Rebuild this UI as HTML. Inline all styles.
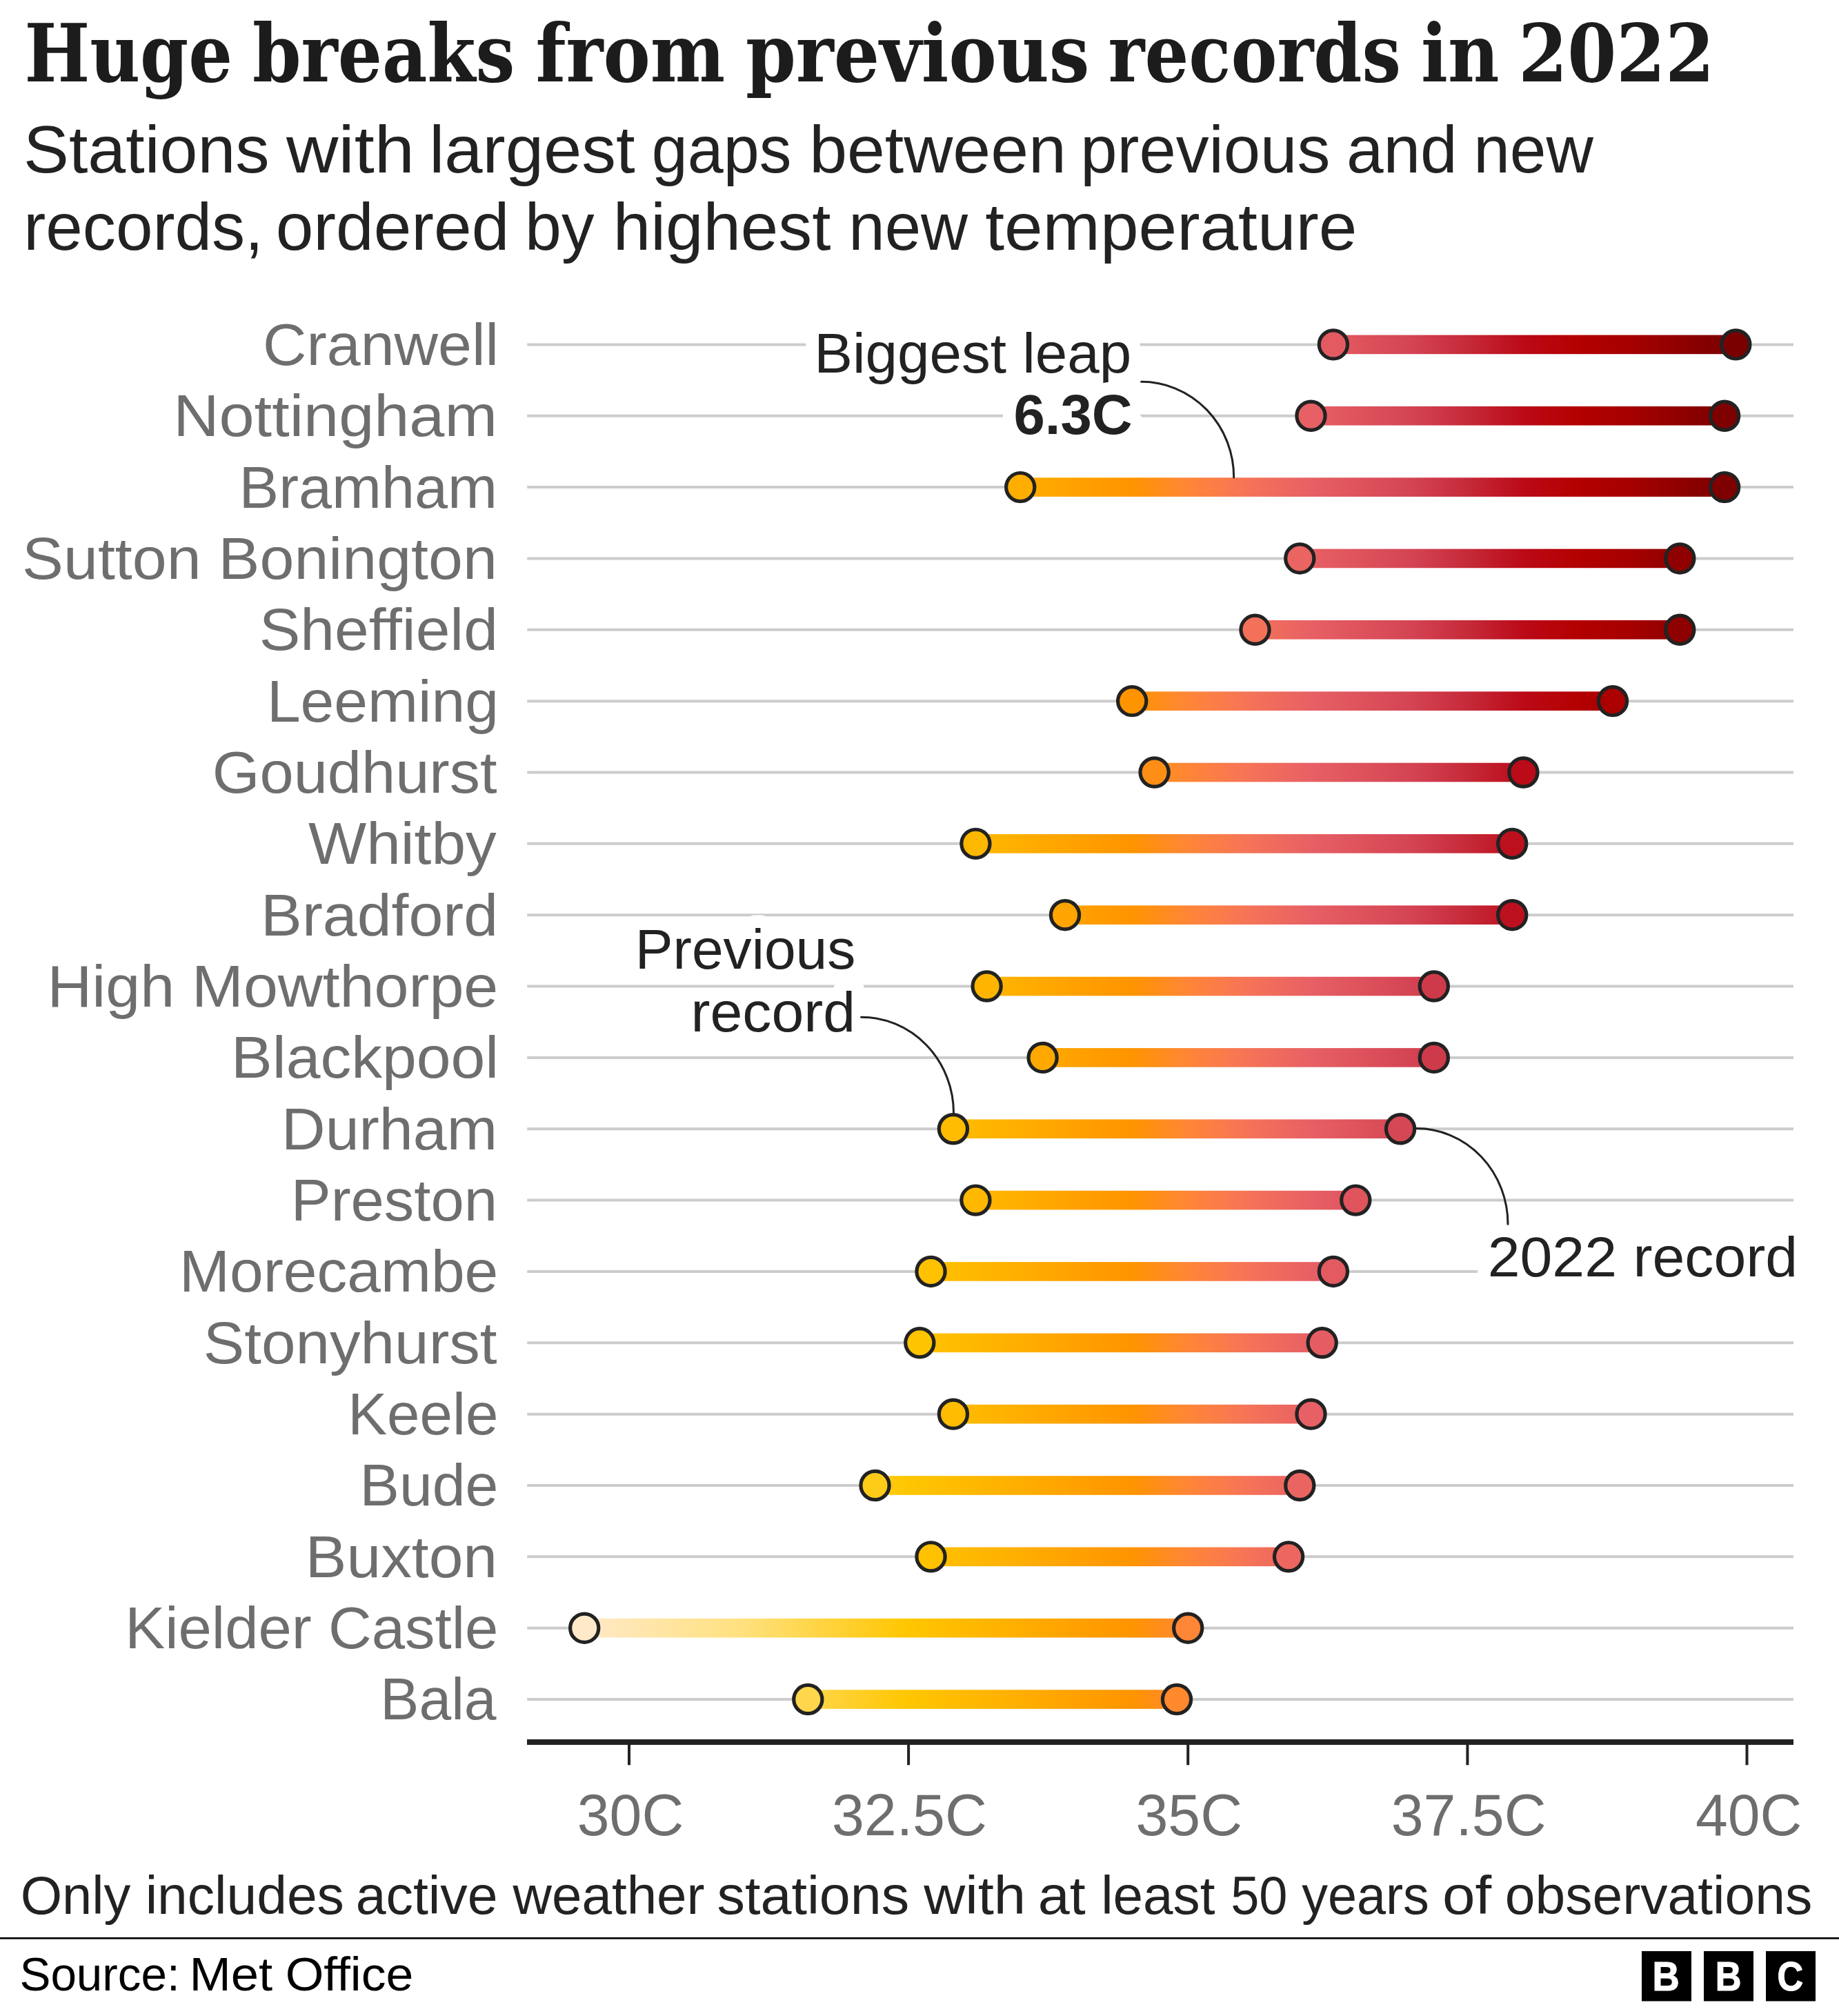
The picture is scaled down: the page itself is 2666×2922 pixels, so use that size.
<!DOCTYPE html>
<html lang="en"><head><meta charset="utf-8"><title>Huge breaks from previous records in 2022</title>
<style>
html,body{margin:0;padding:0;background:#fff}
svg{display:block}
text{font-family:'Liberation Sans',sans-serif}
.title{font-family:'DejaVu Serif','Liberation Serif',serif;font-weight:bold;font-stretch:condensed;fill:#1c1c1c}
.sub{fill:#222}
.lab{fill:#6e6e6e}
.tick{fill:#6e6e6e}
.ann{fill:#222;stroke:#fff;stroke-width:37px;stroke-linejoin:round;stroke-linecap:round;paint-order:stroke fill}
.annb{font-weight:bold}
.foot{fill:#222}
.src{fill:#000}
.grid line{stroke:#ccc;stroke-width:4}
.dot{stroke:#222;stroke-width:5.2}
.curve{fill:none;stroke:#222;stroke-width:3;stroke-linecap:round}
.bbc{font-weight:bold;fill:#fff;stroke:#fff;stroke-width:1.2px}
</style></head><body>
<svg width="2666" height="2922" viewBox="0 0 2666 2922">
<defs><linearGradient id="g" gradientUnits="userSpaceOnUse" x1="847.2" y1="0" x2="2532.5" y2="0"><stop offset="0.0000" stop-color="#FFE9C8"/><stop offset="0.1346" stop-color="#FFE17F"/><stop offset="0.2788" stop-color="#FFC600"/><stop offset="0.3750" stop-color="#FFAE00"/><stop offset="0.4712" stop-color="#FF9400"/><stop offset="0.5192" stop-color="#FF8637"/><stop offset="0.5673" stop-color="#F67556"/><stop offset="0.6250" stop-color="#E76065"/><stop offset="0.7115" stop-color="#D44453"/><stop offset="0.7596" stop-color="#C62A39"/><stop offset="0.8077" stop-color="#BB0A18"/><stop offset="0.8558" stop-color="#B30000"/><stop offset="0.9038" stop-color="#A40000"/><stop offset="0.9519" stop-color="#8A0000"/><stop offset="1.0000" stop-color="#760000"/></linearGradient></defs>
<rect width="2666" height="2922" fill="#fff"/>
<text class="title" y="117.7" font-size="116"><tspan x="35.45" textLength="301.50" lengthAdjust="spacingAndGlyphs">Huge</tspan> <tspan x="365.97" textLength="380.49" lengthAdjust="spacingAndGlyphs">breaks</tspan> <tspan x="776.52" textLength="274.75" lengthAdjust="spacingAndGlyphs">from</tspan> <tspan x="1080.97" textLength="498.48" lengthAdjust="spacingAndGlyphs">previous</tspan> <tspan x="1606.55" textLength="424.51" lengthAdjust="spacingAndGlyphs">records</tspan> <tspan x="2060.02" textLength="113.52" lengthAdjust="spacingAndGlyphs">in</tspan> <tspan x="2201.22" textLength="284.11" lengthAdjust="spacingAndGlyphs">2022</tspan></text>
<text class="sub" y="250.3" font-size="96"><tspan x="34.09" textLength="356.60" lengthAdjust="spacingAndGlyphs">Stations</tspan> <tspan x="415.00" textLength="185.88" lengthAdjust="spacingAndGlyphs">with</tspan> <tspan x="622.24" textLength="298.38" lengthAdjust="spacingAndGlyphs">largest</tspan> <tspan x="944.87" textLength="202.45" lengthAdjust="spacingAndGlyphs">gaps</tspan> <tspan x="1173.16" textLength="372.66" lengthAdjust="spacingAndGlyphs">between</tspan> <tspan x="1566.23" textLength="362.07" lengthAdjust="spacingAndGlyphs">previous</tspan> <tspan x="1951.92" textLength="160.74" lengthAdjust="spacingAndGlyphs">and</tspan> <tspan x="2136.16" textLength="173.67" lengthAdjust="spacingAndGlyphs">new</tspan></text>
<text class="sub" y="362.3" font-size="96"><tspan x="34.30" textLength="347.46" lengthAdjust="spacingAndGlyphs">records,</tspan> <tspan x="399.66" textLength="338.74" lengthAdjust="spacingAndGlyphs">ordered</tspan> <tspan x="761.00" textLength="100.44" lengthAdjust="spacingAndGlyphs">by</tspan> <tspan x="888.84" textLength="315.58" lengthAdjust="spacingAndGlyphs">highest</tspan> <tspan x="1230.35" textLength="172.65" lengthAdjust="spacingAndGlyphs">new</tspan> <tspan x="1428.18" textLength="539.27" lengthAdjust="spacingAndGlyphs">temperature</tspan></text>
<g class="grid">
<line x1="764.2" x2="2600" y1="499.40" y2="499.40"/>
<line x1="764.2" x2="2600" y1="602.75" y2="602.75"/>
<line x1="764.2" x2="2600" y1="706.10" y2="706.10"/>
<line x1="764.2" x2="2600" y1="809.45" y2="809.45"/>
<line x1="764.2" x2="2600" y1="912.80" y2="912.80"/>
<line x1="764.2" x2="2600" y1="1016.15" y2="1016.15"/>
<line x1="764.2" x2="2600" y1="1119.50" y2="1119.50"/>
<line x1="764.2" x2="2600" y1="1222.85" y2="1222.85"/>
<line x1="764.2" x2="2600" y1="1326.20" y2="1326.20"/>
<line x1="764.2" x2="2600" y1="1429.55" y2="1429.55"/>
<line x1="764.2" x2="2600" y1="1532.90" y2="1532.90"/>
<line x1="764.2" x2="2600" y1="1636.25" y2="1636.25"/>
<line x1="764.2" x2="2600" y1="1739.60" y2="1739.60"/>
<line x1="764.2" x2="2600" y1="1842.95" y2="1842.95"/>
<line x1="764.2" x2="2600" y1="1946.30" y2="1946.30"/>
<line x1="764.2" x2="2600" y1="2049.65" y2="2049.65"/>
<line x1="764.2" x2="2600" y1="2153.00" y2="2153.00"/>
<line x1="764.2" x2="2600" y1="2256.35" y2="2256.35"/>
<line x1="764.2" x2="2600" y1="2359.70" y2="2359.70"/>
<line x1="764.2" x2="2600" y1="2463.05" y2="2463.05"/>
</g>
<text class="lab" x="381.05" y="528.8" font-size="85" textLength="341.91" lengthAdjust="spacingAndGlyphs">Cranwell</text>
<text class="lab" x="251.18" y="632.1" font-size="85" textLength="469.80" lengthAdjust="spacingAndGlyphs">Nottingham</text>
<text class="lab" x="346.57" y="735.5" font-size="85" textLength="374.42" lengthAdjust="spacingAndGlyphs">Bramham</text>
<text class="lab" x="32.13" y="838.8" font-size="85" textLength="688.76" lengthAdjust="spacingAndGlyphs">Sutton Bonington</text>
<text class="lab" x="375.68" y="942.2" font-size="85" textLength="346.28" lengthAdjust="spacingAndGlyphs">Sheffield</text>
<text class="lab" x="386.90" y="1045.5" font-size="85" textLength="336.13" lengthAdjust="spacingAndGlyphs">Leeming</text>
<text class="lab" x="307.73" y="1148.9" font-size="85" textLength="412.88" lengthAdjust="spacingAndGlyphs">Goudhurst</text>
<text class="lab" x="447.00" y="1252.2" font-size="85" textLength="272.61" lengthAdjust="spacingAndGlyphs">Whitby</text>
<text class="lab" x="378.11" y="1355.6" font-size="85" textLength="343.91" lengthAdjust="spacingAndGlyphs">Bradford</text>
<text class="lab" x="68.47" y="1459.0" font-size="85" textLength="653.80" lengthAdjust="spacingAndGlyphs">High Mowthorpe</text>
<text class="lab" x="335.13" y="1562.3" font-size="85" textLength="387.90" lengthAdjust="spacingAndGlyphs">Blackpool</text>
<text class="lab" x="408.10" y="1665.7" font-size="85" textLength="312.93" lengthAdjust="spacingAndGlyphs">Durham</text>
<text class="lab" x="421.71" y="1769.0" font-size="85" textLength="299.33" lengthAdjust="spacingAndGlyphs">Preston</text>
<text class="lab" x="260.02" y="1872.3" font-size="85" textLength="462.28" lengthAdjust="spacingAndGlyphs">Morecambe</text>
<text class="lab" x="294.75" y="1975.7" font-size="85" textLength="425.87" lengthAdjust="spacingAndGlyphs">Stonyhurst</text>
<text class="lab" x="504.23" y="2079.1" font-size="85" textLength="218.15" lengthAdjust="spacingAndGlyphs">Keele</text>
<text class="lab" x="521.62" y="2182.4" font-size="85" textLength="200.78" lengthAdjust="spacingAndGlyphs">Bude</text>
<text class="lab" x="442.86" y="2285.8" font-size="85" textLength="278.21" lengthAdjust="spacingAndGlyphs">Buxton</text>
<text class="lab" x="181.25" y="2389.1" font-size="85" textLength="541.03" lengthAdjust="spacingAndGlyphs">Kielder Castle</text>
<text class="lab" x="551.31" y="2492.4" font-size="85" textLength="168.29" lengthAdjust="spacingAndGlyphs">Bala</text>
<rect x="764" y="2521" width="1836" height="8" fill="#222"/>
<rect x="910.0" y="2525" width="4" height="33.3" fill="#222"/>
<rect x="1315.1" y="2525" width="4" height="33.3" fill="#222"/>
<rect x="1720.2" y="2525" width="4" height="33.3" fill="#222"/>
<rect x="2125.4" y="2525" width="4" height="33.3" fill="#222"/>
<rect x="2530.5" y="2525" width="4" height="33.3" fill="#222"/>
<text class="tick" x="836.76" y="2660.3" font-size="85" textLength="154.48" lengthAdjust="spacingAndGlyphs">30C</text>
<text class="tick" x="1205.99" y="2660.3" font-size="85" textLength="224.80" lengthAdjust="spacingAndGlyphs">32.5C</text>
<text class="tick" x="1646.48" y="2660.3" font-size="85" textLength="154.53" lengthAdjust="spacingAndGlyphs">35C</text>
<text class="tick" x="2016.72" y="2660.3" font-size="85" textLength="224.83" lengthAdjust="spacingAndGlyphs">37.5C</text>
<text class="tick" x="2457.91" y="2660.3" font-size="85" textLength="154.22" lengthAdjust="spacingAndGlyphs">40C</text>
<text class="ann" x="1180.25" y="539.5" font-size="81.5" textLength="460.03" lengthAdjust="spacingAndGlyphs">Biggest leap</text>
<text class="ann annb" x="1469.51" y="629.2" font-size="81.5" textLength="172.17" lengthAdjust="spacingAndGlyphs">6.3C</text>
<text class="ann" x="920.79" y="1404.4" font-size="81.5" textLength="319.52" lengthAdjust="spacingAndGlyphs">Previous</text>
<text class="ann" x="1001.56" y="1494.6" font-size="81.5" textLength="238.47" lengthAdjust="spacingAndGlyphs">record</text>
<text class="ann" x="2156.71" y="1850.3" font-size="81.5" textLength="449.40" lengthAdjust="spacingAndGlyphs">2022 record</text>
<rect x="1932.9" y="485.60" width="583.4" height="27.6" fill="url(#g)"/><circle class="dot" cx="1932.9" cy="499.40" r="20.6" fill="#E35A61"/><circle class="dot" cx="2516.3" cy="499.40" r="20.6" fill="#7A0000"/>
<rect x="1900.5" y="588.95" width="599.6" height="27.6" fill="url(#g)"/><circle class="dot" cx="1900.5" cy="602.75" r="20.6" fill="#E76065"/><circle class="dot" cx="2500.1" cy="602.75" r="20.6" fill="#7E0000"/>
<rect x="1479.2" y="692.30" width="1020.9" height="27.6" fill="url(#g)"/><circle class="dot" cx="1479.2" cy="706.10" r="20.6" fill="#FFAE00"/><circle class="dot" cx="2500.1" cy="706.10" r="20.6" fill="#7E0000"/>
<rect x="1884.3" y="795.65" width="551.0" height="27.6" fill="url(#g)"/><circle class="dot" cx="1884.3" cy="809.45" r="20.6" fill="#EA6462"/><circle class="dot" cx="2435.3" cy="809.45" r="20.6" fill="#8F0000"/>
<rect x="1819.5" y="899.00" width="615.8" height="27.6" fill="url(#g)"/><circle class="dot" cx="1819.5" cy="912.80" r="20.6" fill="#F37159"/><circle class="dot" cx="2435.3" cy="912.80" r="20.6" fill="#8F0000"/>
<rect x="1641.2" y="1002.35" width="696.8" height="27.6" fill="url(#g)"/><circle class="dot" cx="1641.2" cy="1016.15" r="20.6" fill="#FF9400"/><circle class="dot" cx="2338.0" cy="1016.15" r="20.6" fill="#AA0000"/>
<rect x="1673.6" y="1105.70" width="534.8" height="27.6" fill="url(#g)"/><circle class="dot" cx="1673.6" cy="1119.50" r="20.6" fill="#FF8E16"/><circle class="dot" cx="2208.4" cy="1119.50" r="20.6" fill="#BB0A18"/>
<rect x="1414.4" y="1209.05" width="777.8" height="27.6" fill="url(#g)"/><circle class="dot" cx="1414.4" cy="1222.85" r="20.6" fill="#FFB800"/><circle class="dot" cx="2192.2" cy="1222.85" r="20.6" fill="#BD101F"/>
<rect x="1544.0" y="1312.40" width="648.2" height="27.6" fill="url(#g)"/><circle class="dot" cx="1544.0" cy="1326.20" r="20.6" fill="#FFA400"/><circle class="dot" cx="2192.2" cy="1326.20" r="20.6" fill="#BD101F"/>
<rect x="1430.6" y="1415.75" width="648.2" height="27.6" fill="url(#g)"/><circle class="dot" cx="1430.6" cy="1429.55" r="20.6" fill="#FFB500"/><circle class="dot" cx="2078.8" cy="1429.55" r="20.6" fill="#CE3A49"/>
<rect x="1511.6" y="1519.10" width="567.2" height="27.6" fill="url(#g)"/><circle class="dot" cx="1511.6" cy="1532.90" r="20.6" fill="#FFA900"/><circle class="dot" cx="2078.8" cy="1532.90" r="20.6" fill="#CE3A49"/>
<rect x="1381.9" y="1622.45" width="648.2" height="27.6" fill="url(#g)"/><circle class="dot" cx="1381.9" cy="1636.25" r="20.6" fill="#FFBC00"/><circle class="dot" cx="2030.1" cy="1636.25" r="20.6" fill="#D64755"/>
<rect x="1414.4" y="1725.80" width="551.0" height="27.6" fill="url(#g)"/><circle class="dot" cx="1414.4" cy="1739.60" r="20.6" fill="#FFB800"/><circle class="dot" cx="1965.3" cy="1739.60" r="20.6" fill="#DF545D"/>
<rect x="1349.5" y="1829.15" width="583.4" height="27.6" fill="url(#g)"/><circle class="dot" cx="1349.5" cy="1842.95" r="20.6" fill="#FFC100"/><circle class="dot" cx="1932.9" cy="1842.95" r="20.6" fill="#E35A61"/>
<rect x="1333.3" y="1932.50" width="583.4" height="27.6" fill="url(#g)"/><circle class="dot" cx="1333.3" cy="1946.30" r="20.6" fill="#FFC400"/><circle class="dot" cx="1916.7" cy="1946.30" r="20.6" fill="#E55D63"/>
<rect x="1381.9" y="2035.85" width="518.6" height="27.6" fill="url(#g)"/><circle class="dot" cx="1381.9" cy="2049.65" r="20.6" fill="#FFBC00"/><circle class="dot" cx="1900.5" cy="2049.65" r="20.6" fill="#E76065"/>
<rect x="1268.5" y="2139.20" width="615.8" height="27.6" fill="url(#g)"/><circle class="dot" cx="1268.5" cy="2153.00" r="20.6" fill="#FFCB19"/><circle class="dot" cx="1884.3" cy="2153.00" r="20.6" fill="#EA6462"/>
<rect x="1349.5" y="2242.55" width="518.6" height="27.6" fill="url(#g)"/><circle class="dot" cx="1349.5" cy="2256.35" r="20.6" fill="#FFC100"/><circle class="dot" cx="1868.1" cy="2256.35" r="20.6" fill="#EC6760"/>
<rect x="847.2" y="2345.90" width="875.1" height="27.6" fill="url(#g)"/><circle class="dot" cx="847.2" cy="2359.70" r="20.6" fill="#FFE9C8"/><circle class="dot" cx="1722.2" cy="2359.70" r="20.6" fill="#FF8637"/>
<rect x="1171.3" y="2449.25" width="534.8" height="27.6" fill="url(#g)"/><circle class="dot" cx="1171.3" cy="2463.05" r="20.6" fill="#FFD64C"/><circle class="dot" cx="1706.0" cy="2463.05" r="20.6" fill="#FF892C"/>
<path class="curve" d="M1654.6 553.3 A134.1 138.6 0 0 1 1788.7 691.9"/>
<path class="curve" d="M1248.5 1474.2 A134 139.1 0 0 1 1382.5 1613.3"/>
<path class="curve" d="M2053.3 1635.6 A132.7 138.7 0 0 1 2186 1774.3"/>
<text class="foot" y="2773.8" font-size="77.6"><tspan x="29.70" textLength="159.72" lengthAdjust="spacingAndGlyphs">Only</tspan> <tspan x="210.67" textLength="288.22" lengthAdjust="spacingAndGlyphs">includes</tspan> <tspan x="515.70" textLength="205.81" lengthAdjust="spacingAndGlyphs">active</tspan> <tspan x="743.60" textLength="278.01" lengthAdjust="spacingAndGlyphs">weather</tspan> <tspan x="1039.54" textLength="278.72" lengthAdjust="spacingAndGlyphs">stations</tspan> <tspan x="1339.18" textLength="147.99" lengthAdjust="spacingAndGlyphs">with</tspan> <tspan x="1504.77" textLength="68.88" lengthAdjust="spacingAndGlyphs">at</tspan> <tspan x="1596.20" textLength="165.23" lengthAdjust="spacingAndGlyphs">least</tspan> <tspan x="1784.15" textLength="82.34" lengthAdjust="spacingAndGlyphs">50</tspan> <tspan x="1887.19" textLength="184.68" lengthAdjust="spacingAndGlyphs">years</tspan> <tspan x="2091.00" textLength="71.20" lengthAdjust="spacingAndGlyphs">of</tspan> <tspan x="2181.75" textLength="445.49" lengthAdjust="spacingAndGlyphs">observations</tspan></text>
<rect x="0" y="2808" width="2666" height="2.6" fill="#000"/>
<text class="src" y="2885.4" font-size="67.8"><tspan x="28.47" textLength="232.19" lengthAdjust="spacingAndGlyphs">Source:</tspan> <tspan x="274.50" textLength="120.73" lengthAdjust="spacingAndGlyphs">Met</tspan> <tspan x="413.65" textLength="185.68" lengthAdjust="spacingAndGlyphs">Office</tspan></text>
<rect x="2380" y="2828" width="72" height="72.5" fill="#000"/><text class="bbc" x="2395.41" y="2885.3" font-size="59.6" textLength="39.28" lengthAdjust="spacingAndGlyphs">B</text>
<rect x="2470" y="2828" width="72" height="72.5" fill="#000"/><text class="bbc" x="2486.85" y="2885.3" font-size="59.6" textLength="37.80" lengthAdjust="spacingAndGlyphs">B</text>
<rect x="2560" y="2828" width="72" height="72.5" fill="#000"/><text class="bbc" x="2576.46" y="2885.3" font-size="59.6" textLength="37.62" lengthAdjust="spacingAndGlyphs">C</text>
</svg>
</body></html>
